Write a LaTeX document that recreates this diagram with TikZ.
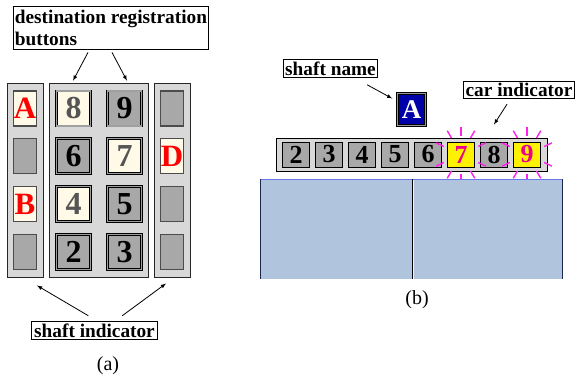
\documentclass[tikz,border=0pt]{standalone}
\usepackage{fontspec}
\setmainfont{Liberation Serif}
\usetikzlibrary{calc}
\definecolor{panelgray}{HTML}{D8D8D8}
\definecolor{btngray}{HTML}{A8A8A8}
\definecolor{cream}{HTML}{FFF9E8}
\definecolor{steel}{HTML}{B0C4DE}
\definecolor{navyA}{HTML}{0000A8}
\definecolor{dimtext}{HTML}{555555}
\definecolor{doorline}{HTML}{1A2850}
\definecolor{ray}{HTML}{FF22EE}
\begin{document}
\begin{tikzpicture}[x=1pt,y=-1pt,
  lbl/.style={draw=black, line width=0.8pt, fill=white, inner sep=2.5pt,
    font=\rmfamily\bfseries\fontsize{19.3}{22}\selectfont},
  arr/.style={-latex, line width=0.8pt},
  col/.style={draw=black!85, fill=panelgray, line width=1pt, inner sep=0pt},
  btn/.style={draw=black, line width=0.5pt, double=gray!75, double distance=1.8pt,
    minimum width=34pt, minimum height=35pt, inner sep=0pt,
    font=\rmfamily\bfseries\fontsize{32}{32}\selectfont},
  btnoff/.style={btn, fill=btngray, text=black},
  btnon/.style={btn, fill=cream, text=dimtext},
  tile/.style={draw=gray!60!black, line width=1.4pt, fill=btngray,
    minimum width=23pt, minimum height=35pt, inner sep=0pt,
    font=\rmfamily\bfseries\fontsize{31}{31}\selectfont},
  tileon/.style={tile, fill=cream, text=red},
  cell/.style={draw=black, line width=1pt, fill=btngray, minimum width=27pt,
    minimum height=25pt, inner sep=0pt, font=\rmfamily\bfseries\fontsize{26}{26}\selectfont},
  cellon/.style={cell, fill=yellow, text=magenta},
  raystyle/.style={draw=ray, line width=1.4pt},
  captxt/.style={font=\rmfamily\fontsize{20}{20}\selectfont}
]
\useasboundingbox (0,0) rectangle (576,383);

% ---------- panel (a) ----------
\node[col, minimum width=36pt, minimum height=194pt] (lc) at (25,180) {};
\node[col, minimum width=99pt, minimum height=194pt] (mc) at (98.5,180) {};
\node[col, minimum width=36pt, minimum height=194pt] (rc) at (172,180) {};

\node[tileon] (tA) at (25,108.5) {A};
\node[tile]   (tl2) at (25,156) {};
\node[tileon] (tB) at (25,204) {B};
\node[tile]   (tl4) at (25,252) {};

\node[tile]   (tr1) at (172,108.5) {};
\node[tileon] (tD) at (172,156) {D};
\node[tile]   (tr3) at (172,204) {};
\node[tile]   (tr4) at (172,252) {};

\node[btnon]  (b8) at (73.5,108.5) {8};
\node[btnoff] (b9) at (124.5,108.5) {9};
\node[btnoff] (b6) at (73.5,156) {6};
\node[btnon]  (b7) at (124.5,156) {7};
\node[btnon]  (b4) at (73.5,204) {4};
\node[btnoff] (b5) at (124.5,204) {5};
\node[btnoff] (b2) at (73.5,252) {2};
\node[btnoff] (b3) at (124.5,252) {3};

\node[lbl, align=left, anchor=north west, inner xsep=1.5pt, inner ysep=3.5pt] (dest) at (13,6)
  {destination registration\\buttons};
\draw[arr] ($(dest.south west)+(75,3)$) -- ($(b8.north)+(-0.5,-10)$);
\draw[arr] ($(dest.south west)+(99,3)$) -- ($(b8.north)+(53.5,-10)$);

\node[lbl] (shind) at (94.5,330.5) {shaft indicator};
\draw[arr] ($(shind.north west)+(57,-5)$) -- ($(lc.south)+(12,8)$);
\draw[arr] ($(shind.north west)+(91,-5)$) -- ($(rc.south)+(-6,6)$);

\node[captxt] (capa) at (108,366) {(a)};

% ---------- panel (b) ----------
\node[lbl, inner sep=2pt] (sname) at (330.5,68.5) {shaft name};
\node[draw=black, line width=0.5pt, double=gray!80, double distance=1.6pt,
  fill=navyA, text=white, minimum width=28pt, minimum height=32pt, inner sep=0pt,
  font=\rmfamily\bfseries\fontsize{27}{27}\selectfont] (nA) at (411.5,109.5) {A};
\draw[arr] ($(sname.south east)+(-11,7)$) -- ($(nA.west)+(-5,-11)$);

\node[lbl, inner sep=2pt] (carind) at (519,90) {car indicator};

\node[draw=black, line width=1pt, fill=panelgray, minimum width=271pt,
  minimum height=33pt, inner sep=0pt] (bar) at (411.5,154.5) {};
\node[cell]   (c2) at (296,154.5) {2};
\node[cell]   (c3) at (329,154.5) {3};
\node[cell]   (c4) at (362,154.5) {4};
\node[cell]   (c5) at (395,154.5) {5};
\node[cell]   (c6) at (428,154.5) {6};
\node[cellon] (c7) at (461,154.5) {7};
\node[cell]   (c8) at (494,154.5) {8};
\node[cellon] (c9) at (527,154.5) {9};
\draw[arr] ($(carind.south)+(-12,5)$) -- ($(c8.north)+(0,-17)$);

\foreach \c in {c7,c9}{
  \foreach \a in {25,60,90,120,155,205,240,270,300,335}{
    \draw[raystyle] ($(\c)+(\a:19)$) -- ($(\c)+(\a:27.5)$);
  }
}

% car doors
\coordinate (dl) at (260,179);
\coordinate (dr) at (562,279);
\fill[steel] (dl) rectangle (dr);
\draw[line width=1pt, color=steel!60!blue] (dl) -- (562,179);
\draw[line width=1pt, color=doorline] (dl) -- (260,279);
\draw[line width=1pt, color=doorline] (562,179) -- (dr);
\draw[line width=1pt, black] (412,179) -- (412,279);
\draw[line width=0.8pt, white!80!steel] (413.5,180) -- (413.5,279);

\node[captxt] (capb) at (417,300) {(b)};
\end{tikzpicture}
\end{document}
